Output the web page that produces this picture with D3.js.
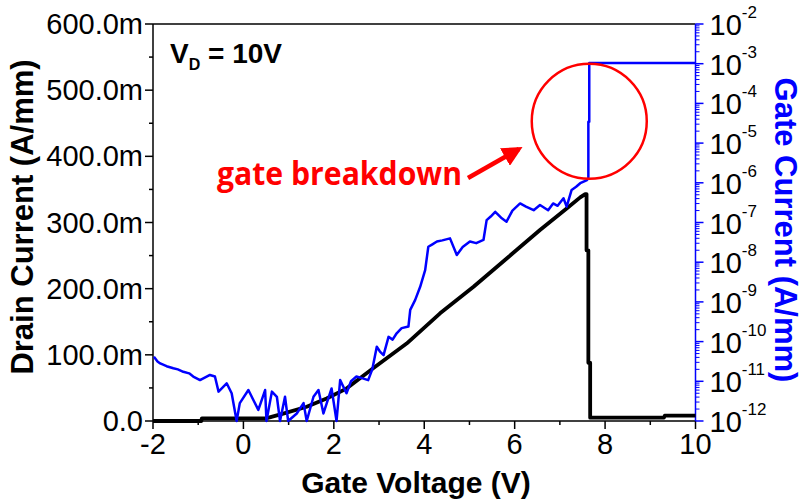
<!DOCTYPE html>
<html><head><meta charset="utf-8">
<script src="https://cdn.jsdelivr.net/npm/d3@7"></script>
<style>body{margin:0;background:#fff}svg{display:block}</style>
</head><body>
<svg id="c" width="802" height="499"></svg>
<script>
// ---- data ----
const drainV = [-2, -0.93, -0.92, 0.5, 0.9, 1.4, 1.84, 2.28, 2.87, 3.61, 4.35, 5.09, 5.83, 6.56, 7.15, 7.45, 7.56, 7.59, 7.59, 7.63, 7.63, 7.67, 7.67, 9.3, 9.32, 10];
const drainI = [0, 0, 0.004, 0.004, 0.0116, 0.0216, 0.034, 0.049, 0.0796, 0.117, 0.1627, 0.203, 0.246, 0.2886, 0.321, 0.338, 0.343, 0.343, 0.258, 0.258, 0.088, 0.088, 0.005, 0.005, 0.008, 0.008];
const gateV = [-1.98, -1.90, -1.84, -1.70, -1.55, -1.45, -1.33, -1.20, -1.11, -0.96, -0.74, -0.63, -0.55, -0.37, -0.26, -0.15, -0.08, 0.11, 0.22, 0.33, 0.48, 0.51, 0.63, 0.74, 0.81, 0.92, 0.99, 1.18, 1.33, 1.40, 1.55, 1.66, 1.77, 1.95, 2.06, 2.14, 2.28, 2.38, 2.5, 2.62, 2.76, 2.85, 2.95, 3.02, 3.10, 3.21, 3.30, 3.39, 3.50, 3.65, 3.69, 3.80, 3.91, 4.02, 4.09, 4.18, 4.28, 4.40, 4.57, 4.72, 4.85, 5.01, 5.15, 5.31, 5.38, 5.47, 5.57, 5.70, 5.82, 5.95, 6.12, 6.25, 6.42, 6.56, 6.74, 6.85, 6.95, 7.08, 7.15, 7.26, 7.36, 7.45, 7.60, 7.63, 7.63, 7.65, 7.65, 10];
const gateLogI = [-10.38, -10.50, -10.55, -10.62, -10.67, -10.70, -10.76, -10.80, -10.88, -10.97, -10.84, -10.88, -11.26, -11.05, -11.30, -12, -11.55, -11.22, -11.47, -11.72, -11.22, -12, -11.26, -11.39, -12, -11.39, -12, -11.81, -11.55, -12, -11.39, -11.22, -11.81, -11.18, -12, -10.97, -11.30, -11.00, -10.88, -10.92, -10.97, -10.70, -10.13, -10.25, -10.34, -9.88, -9.95, -9.79, -9.66, -9.62, -9.20, -8.95, -8.62, -8.20, -7.61, -7.55, -7.48, -7.45, -7.40, -7.82, -7.62, -7.48, -7.52, -7.44, -6.94, -6.85, -6.73, -6.88, -6.98, -6.70, -6.52, -6.60, -6.69, -6.56, -6.69, -6.52, -6.58, -6.39, -6.60, -6.18, -6.10, -6.01, -5.93, -5.89, -4.46, -4.46, -2.98, -2.98];
const xTicks = [-2, 0, 2, 4, 6, 8, 10];
const yLeftTicks = [0, 0.1, 0.2, 0.3, 0.4, 0.5, 0.6];
const yRightExps = [-12, -11, -10, -9, -8, -7, -6, -5, -4, -3, -2];

// ---- layout ----
const svg = d3.select("#c");
const L = 153, R = 695.5, T = 24, B = 421;
const font = "'Liberation Sans', Arial, sans-serif";
const x = d3.scaleLinear().domain([-2, 10]).range([L, R]);
const yL = d3.scaleLinear().domain([0, 0.6]).range([B, T]);
const yR = d3.scaleLog().domain([1e-12, 1e-2]).range([B, T]);

// top border
svg.append("line").attr("x1", L).attr("x2", R).attr("y1", T).attr("y2", T).attr("stroke", "#000").attr("stroke-width", 1.5);

// bottom axis
const gx = svg.append("g").attr("transform", `translate(0,${B})`);
gx.append("line").attr("x1", L).attr("x2", R).attr("stroke", "#000").attr("stroke-width", 1.5);
d3.range(-2, 10.5, 1).forEach(v => {
  const major = v % 2 === 0;
  gx.append("line").attr("x1", x(v)).attr("x2", x(v)).attr("y1", 0).attr("y2", major ? 8 : 4).attr("stroke", "#000").attr("stroke-width", 1.5);
});
xTicks.forEach(v => {
  gx.append("text").attr("x", x(v)).attr("y", 33).attr("text-anchor", "middle")
    .attr("font-family", font).attr("font-size", 29).attr("fill", "#000").text(v);
});

// left axis
const gy = svg.append("g");
gy.append("line").attr("x1", L).attr("x2", L).attr("y1", T).attr("y2", B).attr("stroke", "#000").attr("stroke-width", 1.5);
d3.range(0, 0.601, 0.05).forEach((v, i) => {
  const major = i % 2 === 0;
  gy.append("line").attr("x1", L - (major ? 8 : 4)).attr("x2", L).attr("y1", yL(v)).attr("y2", yL(v)).attr("stroke", "#000").attr("stroke-width", 1.5);
});
yLeftTicks.forEach(v => {
  gy.append("text").attr("x", L - 10).attr("y", yL(v) + 10).attr("text-anchor", "end")
    .attr("font-family", font).attr("font-size", 29).attr("fill", "#000")
    .text(v === 0 ? "0.0" : (v * 1000).toFixed(1) + "m");
});

// right axis (blue, log)
const gr = svg.append("g");
gr.append("line").attr("x1", R).attr("x2", R).attr("y1", T).attr("y2", B).attr("stroke", "#0000ff").attr("stroke-width", 1.5);
yRightExps.forEach(e => {
  gr.append("line").attr("x1", R).attr("x2", R + 8).attr("y1", yR(Math.pow(10, e))).attr("y2", yR(Math.pow(10, e))).attr("stroke", "#0000ff").attr("stroke-width", 1.5);
  if (e < -2) {
    for (let k = 2; k <= 9; k++) {
      const yy = yR(k * Math.pow(10, e));
      gr.append("line").attr("x1", R).attr("x2", R + 4).attr("y1", yy).attr("y2", yy).attr("stroke", "#0000ff").attr("stroke-width", 1);
    }
  }
  const t = gr.append("text").attr("x", R + 14).attr("y", yR(Math.pow(10, e)) + 11)
    .attr("font-family", font).attr("font-size", 29).attr("fill", "#000");
  t.append("tspan").text("10");
  t.append("tspan").attr("dy", -17).attr("font-size", 17).text(String(e));
});

// data lines
const drainData = drainV.map((v, i) => [v, drainI[i]]);
const gateData = gateV.map((v, i) => [v, Math.pow(10, gateLogI[i])]);
svg.append("path").datum(drainData)
  .attr("d", d3.line().x(d => x(d[0])).y(d => yL(d[1])))
  .attr("fill", "none").attr("stroke", "#000").attr("stroke-width", 3.8).attr("stroke-linejoin", "round");
svg.append("path").datum(gateData)
  .attr("d", d3.line().x(d => x(d[0])).y(d => yR(d[1])))
  .attr("fill", "none").attr("stroke", "#0000ff").attr("stroke-width", 2.5).attr("stroke-linejoin", "round");

// annotations
svg.append("circle").attr("cx", x(7.65)).attr("cy", yR(Math.pow(10, -4.45))).attr("r", 57.5)
  .attr("fill", "none").attr("stroke", "#ff0000").attr("stroke-width", 2.5);
svg.append("defs").append("marker").attr("id", "ah").attr("viewBox", "0 0 10 10").attr("refX", 8).attr("refY", 5)
  .attr("markerWidth", 4.5).attr("markerHeight", 4.5).attr("orient", "auto")
  .append("path").attr("d", "M0,0 L10,5 L0,10 z").attr("fill", "#ff0000");
svg.append("line").attr("x1", 468).attr("y1", 178).attr("x2", 519).attr("y2", 149)
  .attr("stroke", "#ff0000").attr("stroke-width", 4.5).attr("marker-end", "url(#ah)");
svg.append("text").attr("x", 217).attr("y", 185).attr("font-family", "'Open Sans', Lato, sans-serif")
  .attr("font-weight", "bold").attr("font-size", 33).attr("fill", "#ff0000")
  .attr("textLength", 245).attr("lengthAdjust", "spacingAndGlyphs").text("gate breakdown");

const vt = svg.append("text").attr("x", 170).attr("y", 63).attr("font-family", font).attr("font-weight", "bold").attr("font-size", 28).attr("fill", "#000");
vt.append("tspan").text("V");
vt.append("tspan").attr("dy", 7).attr("font-size", 16).text("D");
vt.append("tspan").attr("dy", -7).text(" = 10V");

// axis titles
svg.append("text").attr("transform", "translate(33,217) rotate(-90)").attr("text-anchor", "middle")
  .attr("font-family", font).attr("font-weight", "bold").attr("font-size", 31).attr("fill", "#000").text("Drain Current (A/mm)");
svg.append("text").attr("transform", "translate(775,230) rotate(90)").attr("text-anchor", "middle")
  .attr("font-family", font).attr("font-weight", "bold").attr("font-size", 31).attr("fill", "#0000ff").text("Gate Current (A/mm)");
svg.append("text").attr("x", 416).attr("y", 493).attr("text-anchor", "middle")
  .attr("font-family", font).attr("font-weight", "bold").attr("font-size", 30).attr("fill", "#000").text("Gate Voltage (V)");
</script>
</body></html>
